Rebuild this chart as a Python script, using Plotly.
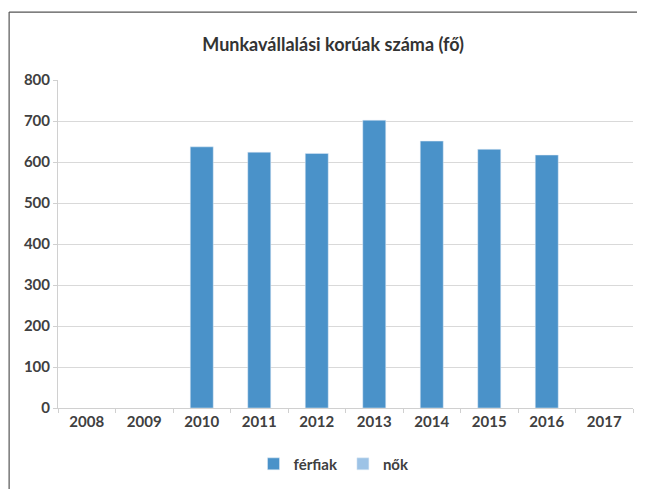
import plotly.graph_objects as go

years = ["2008", "2009", "2010", "2011", "2012", "2013", "2014", "2015", "2016", "2017"]
ferfiak = [None, None, 637, 624, 621, 702, 651, 631, 617, None]
nok = [None] * 10

title = "Munkavállalási korúak száma (fő)"

fig = go.Figure()
fig.add_trace(go.Bar(x=years, y=ferfiak, name="férfiak", marker_color="#4A92C9"))
fig.add_trace(go.Bar(x=years, y=nok, name="nők", marker_color="#9DC3E6"))

font = "Lato, 'Open Sans', sans-serif"
fig.update_layout(
    width=629, height=481,
    margin=dict(l=50, r=4, t=72, b=81),
    paper_bgcolor="white", plot_bgcolor="white",
    barmode="overlay", bargap=0.6,
    title=dict(text=title, x=0.517, xref="container", xanchor="center",
               y=0.923, yref="container", yanchor="middle",
               font=dict(family=font, size=18, color="#333333", weight="bold")),
    legend=dict(orientation="h", x=0.48, xanchor="center", y=-0.171, yanchor="middle",
                font=dict(family=font, size=15, color="#404040", weight="bold"),
                itemwidth=30, traceorder="normal"),
    xaxis=dict(type="category", showgrid=False, showline=True, linecolor="#d0d0d0",
               ticks="outside", ticklen=4, tickcolor="#d0d0d0", tickson="boundaries",
               tickfont=dict(family=font, size=15, color="#404040", weight="bold")),
    yaxis=dict(range=[0, 800], dtick=100, showgrid=True, gridcolor="#d9d9d9",
               zeroline=False, showline=True, linecolor="#d0d0d0",
               ticks="outside", ticklen=4, tickcolor="#d0d0d0",
               tickfont=dict(family=font, size=15, color="#404040", weight="bold")),
    shapes=[
        dict(type="line", xref="paper", yref="paper", x0=-0.085, x1=1.007, y0=1.207, y1=1.207,
             line=dict(color="#555555", width=1.2)),
        dict(type="line", xref="paper", yref="paper", x0=-0.085, x1=-0.085, y0=1.207, y1=-0.25,
             line=dict(color="#555555", width=1.2)),
    ],
)

fig.write_html("out.html")
